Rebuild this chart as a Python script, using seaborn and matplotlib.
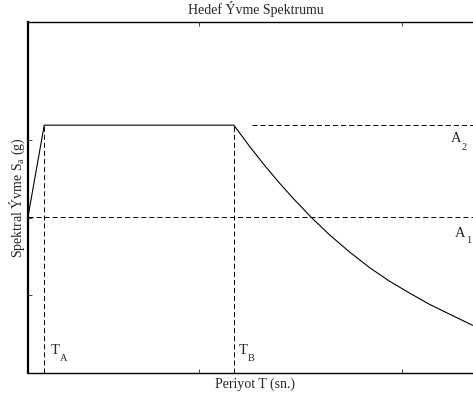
import matplotlib
matplotlib.use("Agg")
import matplotlib.pyplot as plt
import seaborn as sns
import pandas as pd

# ---- data ----
T_curve = [0.080, 0.120, 0.587, 0.626, 0.663, 0.700, 0.737, 0.778, 0.823,
           0.872, 0.921, 0.970, 1.020, 1.069, 1.118, 1.175]
Sa_curve = [0.403, 0.639, 0.639, 0.584, 0.535, 0.489, 0.446, 0.401, 0.356,
            0.312, 0.272, 0.237, 0.206, 0.177, 0.152, 0.123]
T_A = 0.120
T_B = 0.587
A_1 = 0.403
A_2 = 0.639
x_ticks = [0.5, 1.0]
y_ticks = [0.2, 0.4, 0.6]
title = "Hedef Ývme Spektrumu"
xlabel = "Periyot T (sn.)"
ylabel = r"Spektral Ývme S$_\mathrm{a}$ (g)"
# marker labels: (main letter, subscript, x, y, sub_x, sub_y)
marks = [("T", "A", 0.1355, 0.049, 0.1590, 0.031),
         ("T", "B", 0.5985, 0.049, 0.6220, 0.031),
         ("A", "2", 1.121, 0.596, 1.1480, 0.5755),
         ("A", "1", 1.131, 0.351, 1.1590, 0.3355)]

sns.set_style("ticks")
plt.rcParams["font.family"] = ["Liberation Serif", "DejaVu Serif"]
plt.rcParams["mathtext.fontset"] = "custom"
plt.rcParams["mathtext.rm"] = "Liberation Serif"
plt.rcParams["mathtext.it"] = "Liberation Serif:italic"
plt.rcParams["lines.scale_dashes"] = False

fig = plt.figure(figsize=(4.73, 3.98), dpi=100)
ax = fig.add_axes([28 / 473, 25 / 398, 454.7 / 473, 351 / 398])

df = pd.DataFrame({"T": T_curve, "Sa": Sa_curve})
sns.lineplot(data=df, x="T", y="Sa", ax=ax, sort=False, color="black",
             linewidth=0.8, estimator=None)

dash = (3.6, 2.2)
ax.plot([T_A, T_A], [0, A_2], color="black", lw=0.7, dashes=dash)
ax.plot([T_B, T_B], [0, A_2], color="black", lw=0.7, dashes=dash)
ax.plot([0.08, 1.2], [A_1, A_1], color="black", lw=0.7, dashes=dash)
ax.plot([T_B + 0.045, 1.2], [A_2, A_2], color="black", lw=0.7, dashes=dash)

ax.set_xlim(0.08, 1.2)
ax.set_ylim(0, 0.905)
ax.set_xticks(x_ticks)
ax.set_yticks(y_ticks)
ax.tick_params(direction="in", length=3, width=0.6, top=True, right=True,
               labelbottom=False, labelleft=False)
for side in ["top", "bottom", "right"]:
    ax.spines[side].set_linewidth(1.0)
    ax.spines[side].set_color("black")
ax.spines["left"].set_linewidth(1.6)
ax.spines["left"].set_color("black")

fs = 10
for main, sub, x, y, sx, sy in marks:
    ax.text(x, y, main, fontsize=10.5, va="baseline")
    ax.text(sx, sy, sub, fontsize=7.5, va="baseline")

ax.set_title(title, fontsize=fs, pad=6)
ax.set_xlabel(xlabel, fontsize=fs, labelpad=3)
ax.set_ylabel(ylabel, fontsize=fs, labelpad=0.5)

fig.savefig("out.png", dpi=100)
